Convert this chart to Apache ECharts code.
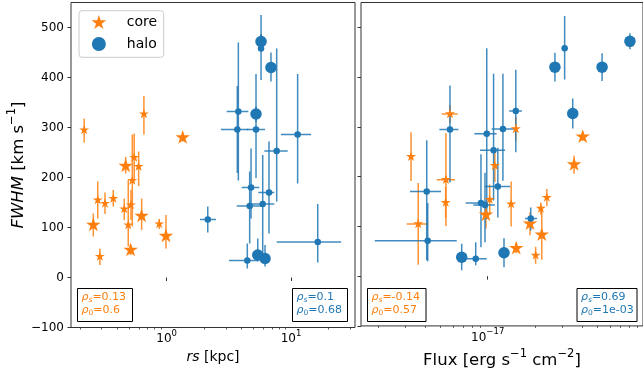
<!DOCTYPE html>
<html><head><meta charset="utf-8">
<script src="https://cdn.jsdelivr.net/npm/echarts@6/dist/echarts.min.js"></script>
<style>html,body{margin:0;padding:0;background:#fff}#c{width:643px;height:374px}</style>
</head><body><div id="c"></div>
<script>
// ---------- data: left panel (rs [kpc]) ----------
const rsCore      = [0.217, 0.656, 1.345, 0.468, 0.548, 0.595, 0.529, 0.279, 0.319, 0.372, 0.456, 0.516, 0.629, 0.491, 0.257, 0.871, 0.987, 0.513, 0.290];
const rsCoreFwhm  = [295, 327, 280, 223, 240, 222, 194, 155, 148, 158, 137, 145, 123, 105, 105, 107, 83, 55, 42];
const rsCoreLo    = [270, 286, 272, 208, 192, 183, 102, 118, 127, 142, 115, 115, 95, 62, 82, 97, 58, 45, 25];
const rsCoreHi    = [318, 363, 288, 241, 288, 252, 286, 192, 170, 175, 158, 175, 158, 195, 128, 117, 125, 65, 58];
const rsCoreBig   = [0, 0, 1, 1, 0, 0, 0, 0, 0, 0, 0, 0, 1, 0, 1, 0, 1, 1, 0];

const rsHalo      = [5.74, 5.74, 6.90, 5.23, 3.77, 3.70, 5.23, 11.3, 7.67, 4.77, 6.65, 4.65, 5.92, 2.14, 16.4, 4.45, 5.40, 6.18];
const rsHaloFwhm  = [472, 458, 420, 327, 332, 296, 296, 286, 253, 180, 170, 143, 147, 116, 71, 34, 45, 38];
const rsHaloLo    = [457, 395, 392, 312, 194, 209, 199, 188, 152, 118, 88, 68, 35, 90, 30, 18, 32, 22];
const rsHaloHi    = [487, 525, 450, 342, 470, 383, 407, 407, 458, 258, 272, 212, 245, 142, 147, 68, 78, 65];
const rsHaloXLo   = [null, null, null, null, 3.04, 2.73, 4.40, 8.3, 6.10, 4.01, 5.46, 3.66, 4.83, 1.85, 7.67, 3.17, null, null];
const rsHaloXHi   = [null, null, null, null, 4.54, 4.54, 6.18, 14.5, 9.40, 5.56, 7.34, 5.81, 7.34, 2.49, 25.3, 5.46, null, null];
const rsHaloBig   = [1, 0, 1, 1, 0, 0, 0, 0, 0, 0, 0, 0, 0, 0, 0, 0, 1, 1];

// ---------- data: right panel (Flux) ----------
const fxCore      = [3.25e-18, 5.75e-18, 5.42e-18, 5.40e-18, 3.61e-18, 1.11e-17, 1.03e-17, 9.75e-18, 1.51e-17, 1.41e-17, 1.86e-17, 2.18e-17, 2.21e-17, 2.38e-17, 2.02e-17, 1.52e-17, 4.03e-17, 3.55e-17];
const fxCoreFwhm  = [240, 326, 194, 148, 105, 222, 154, 123, 296, 145, 105, 136, 83, 158, 42, 56, 280, 224];
const fxCoreLo    = [191, 308, 101, 117, 23, 189, 124, 96, 272, 100, 82, 124, 33, 141, 25, 46, 272, 206];
const fxCoreHi    = [289, 344, 287, 179, 187, 255, 184, 150, 320, 190, 128, 148, 133, 175, 59, 66, 288, 242];
const fxCoreXLo   = [null, 5.09e-18, 4.73e-18, null, 3.05e-18, null, null, null, null, null, null, null, null, null, null, null, null, null];
const fxCoreXHi   = [null, 6.44e-18, 6.19e-18, null, 4.19e-18, null, null, null, null, null, null, null, null, null, null, null, null, null];
const fxCoreBig   = [0, 0, 0, 0, 0, 0, 0, 1, 0, 0, 1, 0, 1, 0, 0, 1, 1, 1];

const fxHalo      = [8.05e-17, 3.09e-17, 2.68e-17, 5.35e-17, 3.48e-17, 1.51e-17, 5.75e-18, 1.25e-17, 9.86e-18, 1.09e-17, 1.16e-17, 4.09e-18, 4.15e-18, 6.83e-18, 8.39e-18, 9.06e-18, 9.61e-18, 1.88e-17, 1.27e-17];
const fxHaloFwhm  = [472, 458, 420, 420, 327, 332, 295, 296, 286, 253, 180, 170, 71, 38, 35, 147, 143, 116, 47];
const fxHaloLo    = [456, 395, 391, 392, 297, 249, 188, 192, 115, 152, 118, 32, 30, 12, 22, 58, 68, 92, 18];
const fxHaloHi    = [488, 523, 449, 448, 357, 415, 383, 407, 458, 407, 258, 273, 147, 65, 68, 245, 208, 138, 76];
const fxHaloXLo   = [null, null, null, null, null, 1.37e-17, 4.92e-18, 1.06e-17, 8.22e-18, 8.93e-18, 9.6e-18, 3.20e-18, 1.91e-18, null, 7.16e-18, 7.24e-18, 8.1e-18, 1.73e-17, null];
const fxHaloXHi   = [null, null, null, null, null, 1.65e-17, 6.50e-18, 1.49e-17, 1.14e-17, 1.29e-17, 1.39e-17, 5.04e-18, 6.35e-18, null, 9.86e-18, 9.86e-18, 1.11e-17, 2.06e-17, null];
const fxHaloBig   = [1, 0, 1, 1, 1, 0, 0, 0, 0, 0, 0, 0, 0, 1, 0, 0, 0, 0, 1];

// ---------- ticks & labels ----------
const yTicks        = [-100, 0, 100, 200, 300, 400, 500];
const rsMajorTicks  = [1, 10];
const rsMinorTicks  = [0.2, 0.3, 0.4, 0.5, 0.6, 0.7, 0.8, 0.9, 2, 3, 4, 5, 6, 7, 8, 9, 20, 30];
const fxMajorTicks  = [1e-17];
const fxMinorTicks  = [2e-18, 3e-18, 4e-18, 5e-18, 6e-18, 7e-18, 8e-18, 9e-18, 2e-17, 3e-17, 4e-17, 5e-17, 6e-17, 7e-17, 8e-17, 9e-17];
const seriesNames   = ['core', 'halo'];
const statsRs       = {core: ['0.13', '0.6'], halo: ['0.1', '0.68']};
const statsFlux     = {core: ['-0.14', '0.57'], halo: ['0.69', '1e-03']};

// ---------- styling ----------
const ORANGE = '#ff7f0e', BLUE = '#1f77b4';
const FONT = 'DejaVu Sans';
const AX = '#333';
const STAR = 'path://M100,0L122.45,69.1L195.1,69.1L136.3,111.8L158.8,180.9L100,138.2L41.2,180.9L63.7,111.8L4.9,69.1L77.55,69.1Z';

function pack(X, Y, LO, HI, XLO, XHI, BIG) {
  return X.map((x, i) => [x, Y[i], LO[i], HI[i],
    (XLO && XLO[i] != null) ? XLO[i] : x, (XHI && XHI[i] != null) ? XHI[i] : x, BIG[i]]);
}
function pow10Label(v) {
  const e = Math.round(Math.log10(v));
  return '{b|10}{p|' + String(e).replace('-', '\u2212') + '}';
}
function errRender(color) {
  return function (params, api) {
    const x = api.value(0), lo = api.value(2), hi = api.value(3), xl = api.value(4), xh = api.value(5), y = api.value(1);
    const st = {stroke: color, lineWidth: 1.5, opacity: 0.85};
    const ch = [];
    if (lo !== hi) {
      const a = api.coord([x, lo]), b = api.coord([x, hi]);
      ch.push({type: 'line', shape: {x1: a[0], y1: a[1], x2: b[0], y2: b[1]}, style: st});
    }
    if (xl !== xh) {
      const a = api.coord([xl, y]), b = api.coord([xh, y]);
      ch.push({type: 'line', shape: {x1: a[0], y1: a[1], x2: b[0], y2: b[1]}, style: st});
    }
    return {type: 'group', children: ch};
  };
}
function errSeries(name, xi, data, color) {
  return {type: 'custom', name: name, xAxisIndex: xi, yAxisIndex: xi, data: data,
    encode: {x: 0, y: 1}, renderItem: errRender(color), silent: true, clip: true};
}
function markSeries(name, xi, data, color, isStar) {
  return {type: 'scatter', name: name, xAxisIndex: xi, yAxisIndex: xi, data: data,
    encode: {x: 0, y: 1},
    symbol: isStar ? STAR : 'circle', symbolKeepAspect: true,
    symbolOffset: isStar ? [0, '-5%'] : [0, 0],
    symbolSize: isStar ? (v => v[6] ? 14.5 : 10) : (v => v[6] ? 11.5 : 6.5),
    itemStyle: {color: color, opacity: 1}, silent: true};
}

const lc = pack(rsCore, rsCoreFwhm, rsCoreLo, rsCoreHi, null, null, rsCoreBig);
const lh = pack(rsHalo, rsHaloFwhm, rsHaloLo, rsHaloHi, rsHaloXLo, rsHaloXHi, rsHaloBig);
const rc = pack(fxCore, fxCoreFwhm, fxCoreLo, fxCoreHi, fxCoreXLo, fxCoreXHi, fxCoreBig);
const rh = pack(fxHalo, fxHaloFwhm, fxHaloLo, fxHaloHi, fxHaloXLo, fxHaloXHi, fxHaloBig);

const tickLabel = {fontSize: 12, fontFamily: FONT, color: '#000'};
function nameStyle(size) {
  return {fontSize: size, fontFamily: FONT, color: '#000',
    rich: {
      i: {fontStyle: 'italic', fontSize: size, fontFamily: FONT, color: '#000'},
      p: {fontSize: size * 0.7, fontFamily: FONT, color: '#000', padding: [0, 0, size * 0.75, 0]}
    }};
}
function majorX(grid, min, max, ticks, name, nameGap, nameFont) {
  return {gridIndex: grid, type: 'log', logBase: 10, min: min, max: max,
    axisLine: {show: false}, splitLine: {show: false}, minorTick: {show: false},
    axisTick: {show: true, customValues: ticks, length: 3.5, lineStyle: {color: AX, width: 1}},
    axisLabel: Object.assign({customValues: ticks, formatter: pow10Label, margin: 1.5,
      rich: {
        b: {fontSize: 12, fontFamily: FONT, color: '#000'},
        p: {fontSize: 8.5, fontFamily: FONT, color: '#000', padding: [0, 0, 11, 0]}
      }}, tickLabel),
    name: name, nameLocation: 'middle', nameGap: nameGap, nameTextStyle: nameStyle(nameFont)};
}
function minorX(grid, min, max, ticks) {
  return {gridIndex: grid, type: 'log', logBase: 10, min: min, max: max, position: 'bottom',
    axisLine: {show: false}, splitLine: {show: false}, axisLabel: {show: false},
    axisTick: {show: true, customValues: ticks, length: 2, lineStyle: {color: AX, width: 0.8}}};
}
function yAx(grid, showLabel) {
  const o = {gridIndex: grid, type: 'value', min: -100, max: 550, interval: 100,
    axisLine: {show: false}, splitLine: {show: false},
    axisTick: {show: true, customValues: yTicks, length: 3.5, lineStyle: {color: AX, width: 1}},
    axisLabel: Object.assign({show: showLabel, customValues: yTicks, margin: 7,
      formatter: v => (v < 0 ? '\u2212' + Math.abs(v) : String(v))}, tickLabel)};
  if (showLabel) {
    Object.assign(o, {name: '{i|FWHM} [km s{p|\u22121}]', nameLocation: 'middle', nameGap: 38, nameRotate: 90,
      nameTextStyle: nameStyle(16.5)});
  }
  return o;
}
function statBox(x, y, w, h, vals, color) {
  const rich = {
    r: {fontStyle: 'italic', fontSize: 11, fontFamily: FONT, fill: color, lineHeight: 13.4},
    si: {fontStyle: 'italic', fontSize: 7.5, fontFamily: FONT, fill: color, lineHeight: 8, padding: [5, 0, 0, 0]},
    s0: {fontSize: 7.5, fontFamily: FONT, fill: color, lineHeight: 8, padding: [5, 0, 0, 0]},
    t: {fontSize: 11, fontFamily: FONT, fill: color, lineHeight: 13.4}
  };
  return [
    {type: 'rect', shape: {x: x, y: y, width: w, height: h}, style: {fill: '#fff', stroke: '#000', lineWidth: 1}, z: 100},
    {type: 'text', x: x + 4, y: y + 2, z: 101,
      style: {text: '{r|ρ}{si|s}{t|=' + vals[0] + '}\n{r|ρ}{s0|0}{t|=' + vals[1] + '}',
        rich: rich, fill: color, fontSize: 11, fontFamily: FONT, align: 'left', verticalAlign: 'top'}}
  ];
}

const chart = echarts.init(document.getElementById('c'), null, {renderer: 'canvas'});
chart.setOption({
  animation: false,
  backgroundColor: '#fff',
  grid: [
    {left: 71, top: 2.5, width: 284, height: 325, show: true, borderColor: AX, borderWidth: 1},
    {left: 361, top: 2.5, width: 282, height: 325, show: true, borderColor: AX, borderWidth: 1}
  ],
  xAxis: [
    majorX(0, 0.17, 32.7, rsMajorTicks, '{i|rs} [kpc]', 21, 14),
    majorX(1, 1.56e-18, 9.75e-17, fxMajorTicks, 'Flux [erg s{p|\u22121} cm{p|\u22122}]', 18, 16.5),
    minorX(0, 0.17, 32.7, rsMinorTicks),
    minorX(1, 1.56e-18, 9.75e-17, fxMinorTicks)
  ],
  yAxis: [yAx(0, true), yAx(1, false)],
  legend: {
    data: [{name: seriesNames[0], icon: STAR}, {name: seriesNames[1], icon: 'circle'}],
    orient: 'vertical', left: 79, top: 10.7, itemWidth: 15, itemHeight: 14, itemGap: 8,
    padding: [4.3, 6.5, 6.3, 12.5], borderColor: '#ccc', borderWidth: 1, borderRadius: 3,
    backgroundColor: 'rgba(255,255,255,0.8)', selectedMode: false,
    textStyle: {fontSize: 14, fontFamily: FONT, color: '#000', padding: [0, 0, 0, 15.5]}
  },
  graphic: [].concat(
    statBox(77.5, 288.5, 55, 33, statsRs.core, ORANGE),
    statBox(292.5, 288.5, 55, 33, statsRs.halo, BLUE),
    statBox(367.5, 288.5, 58.5, 33, statsFlux.core, ORANGE),
    statBox(577, 288.5, 60, 33, statsFlux.halo, BLUE)
  ),
  series: [
    errSeries('core-err', 0, lc, ORANGE),
    markSeries(seriesNames[0], 0, lc, ORANGE, true),
    errSeries('halo-err', 0, lh, BLUE),
    markSeries(seriesNames[1], 0, lh, BLUE, false),
    errSeries('core-err', 1, rc, ORANGE),
    markSeries(seriesNames[0], 1, rc, ORANGE, true),
    errSeries('halo-err', 1, rh, BLUE),
    markSeries(seriesNames[1], 1, rh, BLUE, false)
  ]
});
</script></body></html>
